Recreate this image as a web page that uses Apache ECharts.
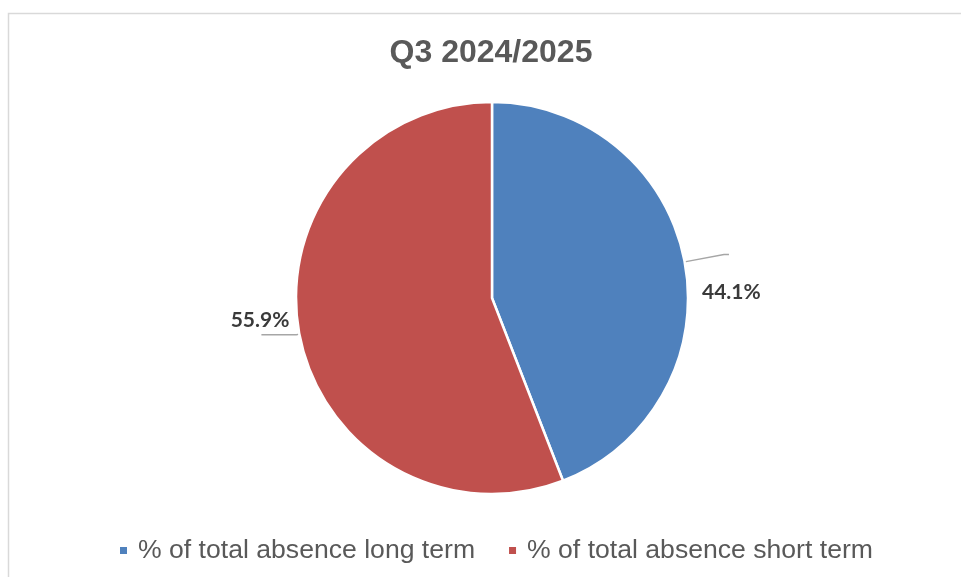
<!DOCTYPE html>
<html>
<head>
<meta charset="utf-8">
<script src="https://cdn.jsdelivr.net/npm/echarts@6/dist/echarts.min.js"></script>
<style>
  html, body { margin: 0; padding: 0; background: #ffffff; }
  #chart { width: 961px; height: 577px; }
</style>
</head>
<body>
<div id="chart"></div>
<script>
// Share of total absence, Q3 2024/2025
const chartTitle = 'Q3 2024/2025';
const categories = ['% of total absence long term', '% of total absence short term'];
const shares = [44.1, 55.9];
const sliceColors = ['#4f81bd', '#c0504d'];

// Leader line lengths and label nudges, one entry per slice
const leaderLines = [
  { length: 40, length2: 5 },
  { length: 3, length2: 35 }
];
const labelNudges = [
  { dx: -32, dy: 38 },
  { dx: 33, dy: -14 }
];

const chart = echarts.init(document.getElementById('chart'), null, { renderer: 'canvas' });

const pieData = categories.map((name, i) => ({
  name: name,
  value: shares[i],
  itemStyle: { color: sliceColors[i] },
  labelLine: leaderLines[i]
}));

chart.setOption({
  backgroundColor: '#ffffff',
  animation: false,
  graphic: [{
    type: 'rect',
    shape: { x: 8.5, y: 13.5, width: 1000, height: 1000 },
    style: { fill: 'none', stroke: '#d9d9d9', lineWidth: 1.5 },
    silent: true
  }],
  title: {
    text: chartTitle,
    left: 486,
    textAlign: 'center',
    top: 32,
    textStyle: {
      fontFamily: 'Liberation Sans, Arial, sans-serif',
      fontSize: 32,
      fontWeight: 'bold',
      color: '#595959'
    }
  },
  legend: {
    bottom: 8,
    left: 113,
    icon: 'rect',
    itemWidth: 9,
    itemHeight: 9,
    itemGap: 32,
    textStyle: {
      fontFamily: 'Liberation Sans, Arial, sans-serif',
      fontSize: 26.6,
      color: '#595959',
      padding: [0, 0, 0, 5]
    },
    data: categories
  },
  series: [{
    type: 'pie',
    center: [492, 298],
    radius: [0, 196],
    startAngle: 90,
    clockwise: true,
    avoidLabelOverlap: false,
    itemStyle: { borderColor: '#ffffff', borderWidth: 2.5 },
    label: {
      show: true,
      position: 'outside',
      formatter: (p) => p.value.toFixed(1) + '%',
      fontFamily: 'Lato, sans-serif',
      fontWeight: 'bold',
      fontSize: 21,
      color: '#3a3a3a'
    },
    labelLine: {
      show: true,
      smooth: false,
      lineStyle: { color: '#a6a6a6', width: 1.5 }
    },
    labelLayout: (params) => ({
      dx: labelNudges[params.dataIndex].dx,
      dy: labelNudges[params.dataIndex].dy,
      labelLinePoints: params.labelLinePoints
    }),
    emphasis: { disabled: true },
    data: pieData
  }]
});
</script>
</body>
</html>
